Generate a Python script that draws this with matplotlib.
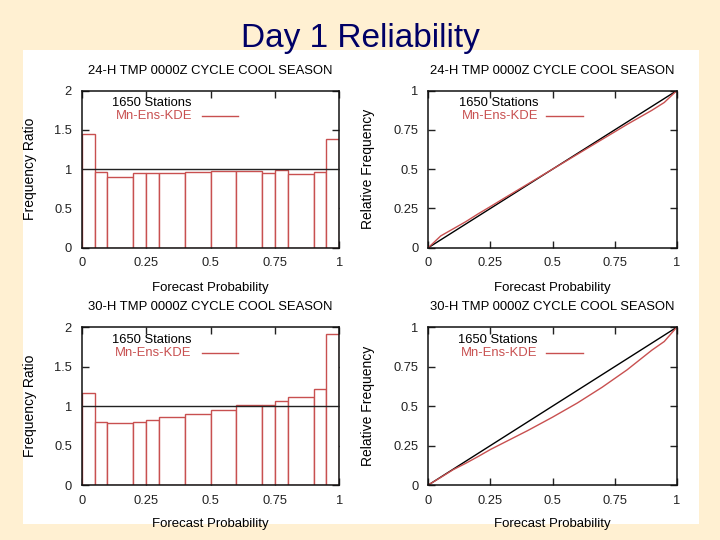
import matplotlib
matplotlib.use("Agg")
import matplotlib.pyplot as plt
import numpy as np

plt.rcParams['font.family'] = ['Liberation Sans', 'DejaVu Sans']

# ---- data ----
bin_edges = [0, 0.05, 0.1, 0.2, 0.25, 0.3, 0.4, 0.5, 0.6, 0.7, 0.75, 0.8, 0.9, 0.95, 1.0]
ratio_24h = [1.45, 0.96, 0.905, 0.95, 0.947, 0.955, 0.964, 0.98, 0.98, 0.955, 0.99, 0.934, 0.97, 1.39]
ratio_30h = [1.167, 0.80, 0.78, 0.80, 0.83, 0.86, 0.905, 0.947, 1.01, 1.02, 1.07, 1.11, 1.22, 1.92]

rel_prob = [0, 0.05, 0.1, 0.15, 0.2, 0.25, 0.3, 0.4, 0.5, 0.6, 0.7, 0.8, 0.9, 0.95, 1.0]
rel_24h = [0, 0.075, 0.12, 0.165, 0.215, 0.262, 0.31, 0.405, 0.5, 0.595, 0.69, 0.785, 0.875, 0.925, 1.0]
rel_30h = [0, 0.048, 0.097, 0.137, 0.18, 0.225, 0.265, 0.345, 0.43, 0.52, 0.62, 0.73, 0.855, 0.91, 1.0]
perfect = [0, 1]

titles = ["24-H TMP 0000Z CYCLE COOL SEASON", "24-H TMP 0000Z CYCLE COOL SEASON",
          "30-H TMP 0000Z CYCLE COOL SEASON", "30-H TMP 0000Z CYCLE COOL SEASON"]
x_ticks = [0, 0.25, 0.5, 0.75, 1]
x_ticklabels = ["0", "0.25", "0.5", "0.75", "1"]
hist_yticks = [0, 0.5, 1, 1.5, 2]
hist_yticklabels = ["0", "0.5", "1", "1.5", "2"]
rel_yticks = [0, 0.25, 0.5, 0.75, 1]
rel_yticklabels = ["0", "0.25", "0.5", "0.75", "1"]
legend_count = "1650 Stations"
legend_name = "Mn-Ens-KDE"

RED = '#C85050'
BG = '#FFF0D2'

fig = plt.figure(figsize=(7.2, 5.4), dpi=100, facecolor=BG)

def px(l, r, t, b):
    return [l/720, 1-b/540, (r-l)/720, (b-t)/540]

bg_ax = fig.add_axes(px(22.7, 699.3, 50, 524.3), zorder=-5)
bg_ax.set_facecolor('white')
bg_ax.set_xticks([])
bg_ax.set_yticks([])
for s in bg_ax.spines.values():
    s.set_visible(False)

fig.text(0.5, 1-46.5/540, "Day 1 Reliability", ha='center', va='baseline', fontsize=24, color='#000066')

ax1 = fig.add_axes(px(81.7, 339.3, 90.7, 247.7))
ax2 = fig.add_axes(px(428.3, 676.7, 90.7, 247.7))
ax3 = fig.add_axes(px(81.7, 339.3, 327.3, 485))
ax4 = fig.add_axes(px(428.3, 676.7, 327.3, 485))

def style(ax, yticks, yticklabels, ylabel, title, ylabel_x, xlabel_y, leg_x, line_x):
    ax.set_xlim(0, 1)
    ax.set_xticks(x_ticks)
    ax.set_xticklabels(x_ticklabels)
    ax.set_yticks(yticks)
    ax.set_yticklabels(yticklabels)
    ax.set_ylim(yticks[0], yticks[-1])
    ax.tick_params(direction='in', length=5, width=1, top=True, right=True,
                   labelsize=9.3, pad=7, colors='#222222', labelcolor='#222222')
    for s in ax.spines.values():
        s.set_linewidth(1.1)
        s.set_color('#111111')
    ax.set_ylabel(ylabel, fontsize=10)
    ax.yaxis.set_label_coords(ylabel_x, 0.5)
    ax.set_xlabel("Forecast Probability", fontsize=9.5)
    ax.xaxis.set_label_coords(0.5, xlabel_y)
    ax.text(0.5, 1.127, title, transform=ax.transAxes, ha='center', va='center', fontsize=9.4)
    ax.text(leg_x, 0.92, legend_count, transform=ax.transAxes, ha='right', va='center', fontsize=9.4, color='black')
    ax.text(leg_x, 0.84, legend_name, transform=ax.transAxes, ha='right', va='center', fontsize=9.4, color=RED)
    ax.plot(line_x, [0.84, 0.84], transform=ax.transAxes, color=RED, lw=1)

def hist(ax, vals):
    edges = np.array(bin_edges)
    ax.bar(edges[:-1], vals, width=np.diff(edges), align='edge', facecolor='white',
           edgecolor=RED, linewidth=1, zorder=2)
    ax.axhline(1, color='#222222', lw=1, zorder=3)

hist(ax1, ratio_24h)
hist(ax3, ratio_30h)

ax2.plot(perfect, perfect, color='black', lw=1)
ax2.plot(rel_prob, rel_24h, color=RED, lw=1)
ax4.plot(perfect, perfect, color='black', lw=1)
ax4.plot(rel_prob, rel_30h, color=RED, lw=1)

style(ax1, hist_yticks, hist_yticklabels, "Frequency Ratio", titles[0], -0.175, -0.217, 0.428, [0.466, 0.607])
style(ax2, rel_yticks, rel_yticklabels, "Relative Frequency", titles[1], -0.214, -0.217, 0.443, [0.474, 0.624])
style(ax3, hist_yticks, hist_yticklabels, "Frequency Ratio", titles[2], -0.175, -0.207, 0.425, [0.466, 0.607])
style(ax4, rel_yticks, rel_yticklabels, "Relative Frequency", titles[3], -0.214, -0.207, 0.44, [0.474, 0.624])

fig.savefig("out.png", dpi=100, facecolor=BG)
